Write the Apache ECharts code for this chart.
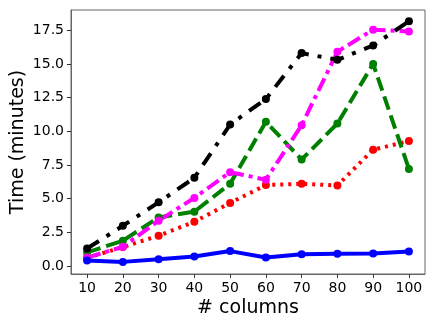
<!DOCTYPE html>
<html>
<head>
<meta charset="utf-8">
<script src="https://cdn.jsdelivr.net/npm/echarts@6/dist/echarts.min.js"></script>
<style>
html, body { margin: 0; padding: 0; background: #fff; }
#main { width: 436px; height: 327px; }
</style>
</head>
<body>
<div id="main"></div>
<script>
var columns = [10, 20, 30, 40, 50, 60, 70, 80, 90, 100];
var yTicks = [0, 2.5, 5, 7.5, 10, 12.5, 15, 17.5];
var blueVals = [0.4, 0.3, 0.5, 0.7, 1.1, 0.62, 0.87, 0.9, 0.92, 1.07];
var redVals = [0.6, 1.4, 2.24, 3.28, 4.68, 6.0, 6.1, 5.97, 8.63, 9.27];
var greenVals = [1.0, 1.87, 3.6, 4.03, 6.1, 10.7, 7.9, 10.57, 15.0, 7.2];
var magentaVals = [0.62, 1.42, 3.36, 5.05, 6.96, 6.4, 10.45, 15.9, 17.54, 17.4];
var blackVals = [1.29, 2.98, 4.72, 6.54, 10.5, 12.39, 15.8, 15.3, 16.37, 18.16];

function pairs(vals) {
    return columns.map(function (c, i) { return [c, vals[i]]; });
}

function mkSeries(vals, color, dash) {
    return {
        type: 'line',
        data: pairs(vals),
        symbol: 'circle',
        symbolSize: 8,
        itemStyle: { color: color },
        lineStyle: { color: color, width: 4, type: dash, cap: 'butt' },
        animation: false
    };
}

var chartDom = document.getElementById('main');
var myChart = echarts.init(chartDom);
var option = {
    backgroundColor: '#fff',
    grid: {
        left: 71,
        right: 11,
        top: 10,
        bottom: 53,
        outerBoundsMode: 'none',
        containLabel: false,
        show: true,
        borderColor: '#666',
        borderWidth: 1
    },
    xAxis: {
        type: 'value',
        min: 5.5,
        max: 104.5,
        name: '# columns',
        nameLocation: 'middle',
        nameGap: 25,
        nameMoveOverlap: false,
        nameTextStyle: { fontFamily: 'DejaVu Sans', fontSize: 19, color: '#000' },
        axisLine: { show: true, onZero: false, lineStyle: { color: '#666' } },
        axisTick: { show: true, length: 4, customValues: columns, lineStyle: { color: '#333' } },
        axisLabel: { customValues: columns, fontFamily: 'DejaVu Sans', fontSize: 14, color: '#000', margin: 7 },
        splitLine: { show: false }
    },
    yAxis: {
        type: 'value',
        min: -0.6,
        max: 19.0,
        name: 'Time (minutes)',
        nameLocation: 'middle',
        nameGap: 43,
        nameMoveOverlap: false,
        nameTextStyle: { fontFamily: 'DejaVu Sans', fontSize: 19, color: '#000' },
        axisLine: { show: true, onZero: false, lineStyle: { color: '#666' } },
        axisTick: { show: true, length: 4, customValues: yTicks, lineStyle: { color: '#333' } },
        axisLabel: {
            customValues: yTicks,
            fontFamily: 'DejaVu Sans',
            fontSize: 14,
            color: '#000',
            margin: 7,
            formatter: function (v) { return v.toFixed(1); }
        },
        splitLine: { show: false }
    },
    series: [
        mkSeries(redVals, '#ff0000', [3, 5]),
        mkSeries(greenVals, '#008000', [14, 6]),
        mkSeries(magentaVals, '#ff00ff', [14, 5, 4, 5]),
        mkSeries(blackVals, '#000000', [14, 9, 4, 9]),
        mkSeries(blueVals, '#0000ff', 'solid')
    ]
};
myChart.setOption(option);
</script>
</body>
</html>
